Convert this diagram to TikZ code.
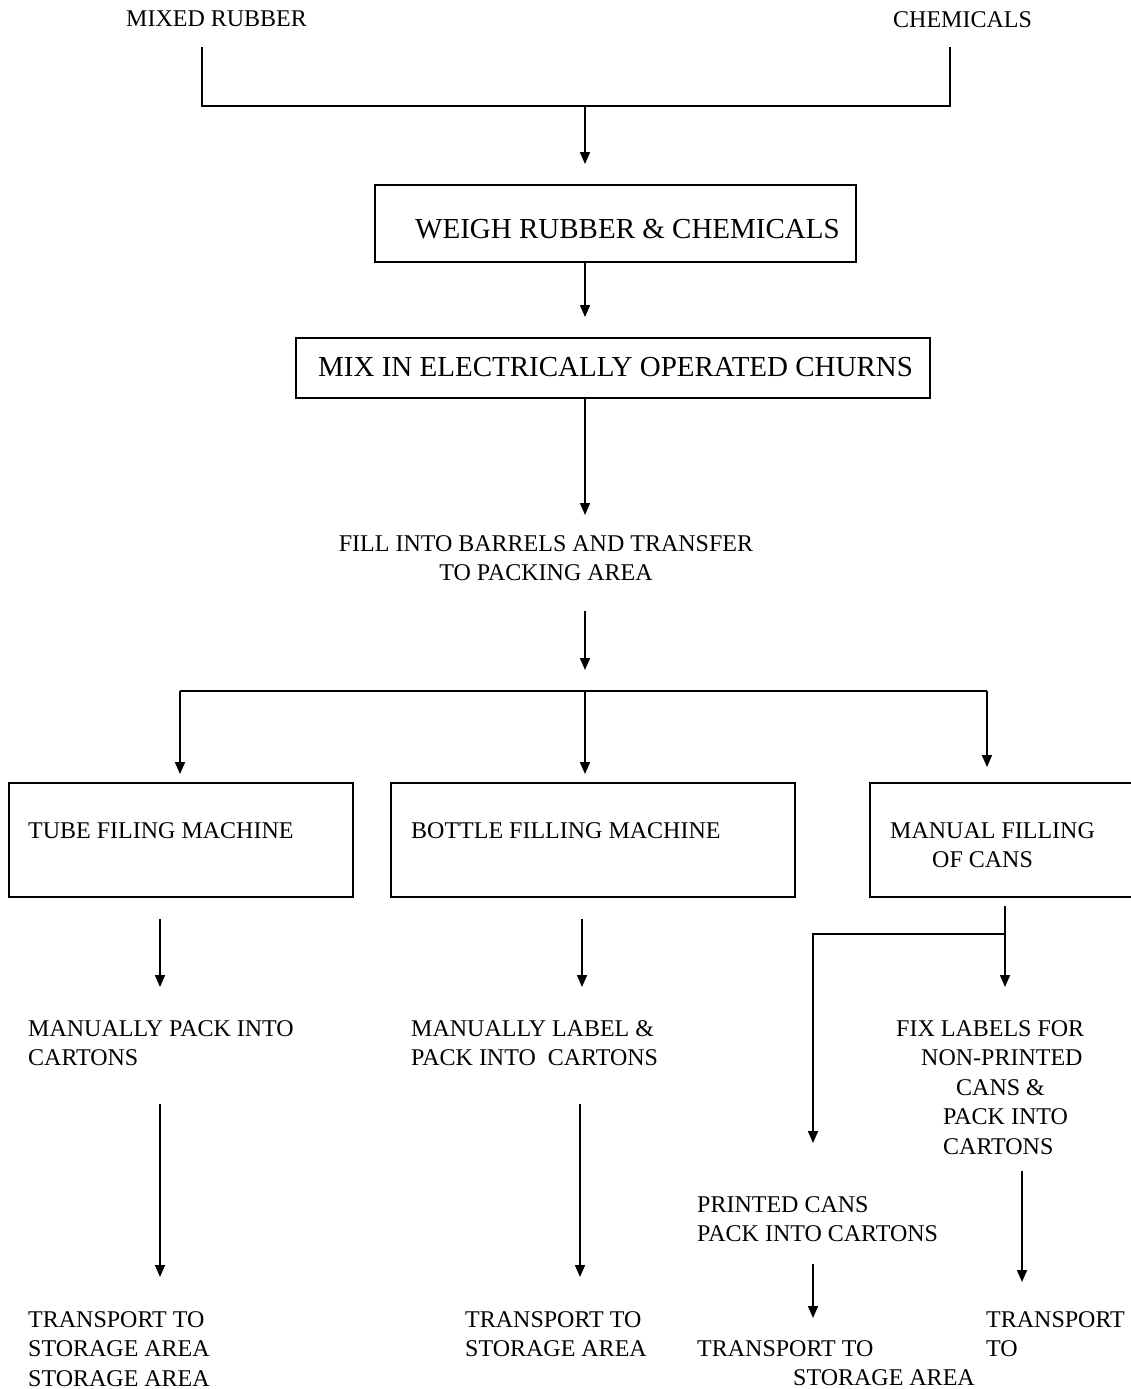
\documentclass[tikz,border=0pt]{standalone}
\usepackage{fontspec}
\setmainfont{Liberation Serif}
\usetikzlibrary{arrows.meta,calc}
\begin{document}
\begin{tikzpicture}[x=1pt,y=-1pt,
  txt/.style={font=\fontsize{24}{29.5}\selectfont, inner sep=0pt, align=left, anchor=north west},
  big/.style={font=\fontsize{29}{34}\selectfont, inner sep=0pt, anchor=west},
  box/.style={draw, line width=1.9pt, inner sep=0pt},
  conn/.style={line width=1.6pt},
  bar/.style={line width=2.2pt},
  arr/.style={conn, -{Triangle[length=12pt,width=10pt]}}]
\useasboundingbox (0,0) rectangle (1131,1389);
\fill[white] (0,0) rectangle (1131,1389);
\clip (0,0) rectangle (1131,1389);
% sources
\node[txt] (mixed) at (126,11) {MIXED RUBBER};
\node[txt] (chem) at (893,11) {CHEMICALS};
\coordinate (l1) at (202,47);
\coordinate (l2) at (202,106);
\coordinate (r1) at (950,47);
\coordinate (r2) at (950,106);
\coordinate (j1) at (585,106);
\draw[bar] (l1) -- (l2) -- (r2) -- (r1);
% weigh and mix
\node[box, minimum width=481, minimum height=77] (weigh) at (615.5,223.5) {};
\node[big] (weightxt) at (415,229) {WEIGH RUBBER \& CHEMICALS};
\node[box, minimum width=634, minimum height=60] (mix) at (613,368) {};
\node[big] (mixtxt) at (318,367) {MIX IN ELECTRICALLY OPERATED CHURNS};
\draw[arr, shorten >=20pt] (j1) -- (j1 |- weigh.north);
\draw[arr, shorten >=20pt] (weigh.south -| j1) -- (mix.north -| j1);
\node[txt, align=center, anchor=north] (fill) at (546,535) {FILL INTO BARRELS AND TRANSFER\\TO PACKING AREA};
\draw[arr, shorten >=20pt] (mix.south -| j1) -- (fill.north -| j1);
\coordinate (split) at (585,691);
\coordinate (sl) at (180,691);
\coordinate (sr) at (987,691);
\draw[arr, shorten <=30pt, shorten >=21pt] (fill.south -| j1) -- (split);
\draw[bar] (sl) -- (sr);
% three machines
\node[box, minimum width=344, minimum height=114] (tube) at (181,840) {};
\node[box, minimum width=404, minimum height=114] (bottle) at (593,840) {};
\node[box, minimum width=280, minimum height=114] (manual) at (1010,840) {};
\node[txt] (tubetxt) at (28,822) {TUBE FILING MACHINE};
\node[txt] (bottletxt) at (411,822) {BOTTLE FILLING MACHINE};
\node[txt] (manualtxt) at (890,822) {MANUAL FILLING\\\hspace{42pt}OF CANS};
\draw[arr, shorten >=8pt] (sl) -- (sl |- tube.north);
\draw[arr, shorten >=8pt] (split) -- (split |- bottle.north);
\draw[arr, shorten >=15pt] (sr) -- (sr |- manual.north);
% packing steps
\node[txt] (pack1) at (28,1020) {MANUALLY PACK INTO\\CARTONS};
\node[txt] (pack2) at (411,1020) {MANUALLY LABEL \&\\PACK INTO\ \ CARTONS};
\node[txt] (fix) at (896,1020) {FIX LABELS FOR\\\hspace{25pt}NON-PRINTED\\\hspace{60pt}CANS \&\\\hspace{47pt}PACK INTO\\\hspace{47pt}CARTONS};
\node[txt] (printed) at (697,1196) {PRINTED CANS\\PACK INTO CARTONS};
% transport
\node[txt] (tr1) at (28,1311) {TRANSPORT TO\\STORAGE AREA\\STORAGE AREA};
\node[txt] (tr2) at (465,1311) {TRANSPORT TO\\STORAGE AREA};
\node[txt] (tr3) at (697,1340) {TRANSPORT TO\\\hspace{96pt}STORAGE AREA};
\node[txt] (tr4) at (986,1311) {TRANSPORT\\TO};
% arrow columns
\coordinate (xa) at (160,0);
\coordinate (xb) at (582,0);
\coordinate (xf) at (580,0);
\coordinate (xe) at (1022,0);
\coordinate (xd) at (813,0);
\coordinate (mj) at (1005,934);
\coordinate (ml) at (813,934);
\draw[arr, shorten <=21pt, shorten >=33pt] (tube.south -| xa) -- (pack1.north -| xa);
\draw[arr, shorten <=21pt, shorten >=33pt] (bottle.south -| xb) -- (pack2.north -| xb);
\draw[conn, shorten <=8pt] (manual.south -| mj) -- (mj);
\draw[arr, shorten >=33pt] (mj) -- (fix.north -| mj);
\draw[arr, shorten >=53pt] (mj) -- (ml) -- (printed.north -| ml);
\draw[arr, shorten <=38pt, shorten >=34pt] (pack1.south -| xa) -- (tr1.north -| xa);
\draw[arr, shorten <=38pt, shorten >=34pt] (pack2.south -| xf) -- (tr2.north -| xf);
\draw[arr, shorten <=16pt, shorten >=29pt] (fix.south -| xe) -- (tr4.north -| xe);
\draw[arr, shorten <=22pt, shorten >=22pt] (printed.south -| xd) -- (tr3.north -| xd);
\end{tikzpicture}
\end{document}
